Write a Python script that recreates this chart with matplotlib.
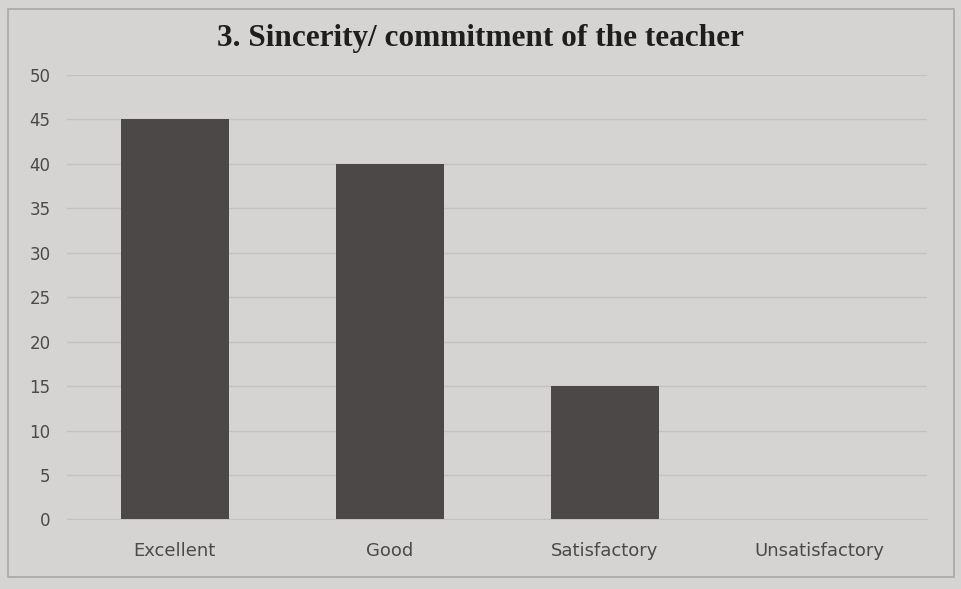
import matplotlib.pyplot as plt
from matplotlib.patches import Rectangle

# Survey result: sincerity / commitment of the teacher
CATEGORIES = ["Excellent", "Good", "Satisfactory", "Unsatisfactory"]
COUNTS = [45, 40, 15, 0]
Y_TICKS = [0, 5, 10, 15, 20, 25, 30, 35, 40, 45, 50]

PAPER = "#d6d4d2"
BAR_COLOR = "#4b4847"
TEXT_COLOR = "#4a4a4a"


def main():
    fig = plt.figure(figsize=(9.61, 5.89), dpi=100, facecolor=PAPER)
    ax = fig.add_axes([0.070, 0.118, 0.895, 0.755], facecolor=PAPER)

    ax.bar(range(len(CATEGORIES)), COUNTS, width=0.5, color=BAR_COLOR, zorder=3)

    ax.set_xlim(-0.5, len(CATEGORIES) - 0.5)
    ax.set_ylim(0, 50)
    ax.set_yticks(Y_TICKS)
    ax.set_xticks(range(len(CATEGORIES)))
    ax.set_xticklabels(CATEGORIES)
    ax.tick_params(axis="both", length=0, labelsize=12, colors=TEXT_COLOR)
    ax.tick_params(axis="x", labelsize=13, pad=16)
    ax.tick_params(axis="y", pad=12)

    ax.grid(axis="y", color="#c4c2c0", linewidth=1.0, zorder=0)
    for side in ("top", "right", "left"):
        ax.spines[side].set_visible(False)
    ax.spines["bottom"].set_color("#c4c2c0")

    fig.text(0.5, 0.935, "3. Sincerity/ commitment of the teacher",
             ha="center", va="center", fontsize=22.5, fontweight="bold",
             family="Liberation Serif", color="#1e1e1e")

    # chart border
    fig.patches.append(Rectangle((0.008, 0.02), 0.985, 0.965, transform=fig.transFigure,
                                 fill=False, edgecolor="#a9a7a5", linewidth=1.2))

    plt.savefig("out.png", dpi=100, facecolor=PAPER)
    plt.close()


if __name__ == "__main__":
    main()
